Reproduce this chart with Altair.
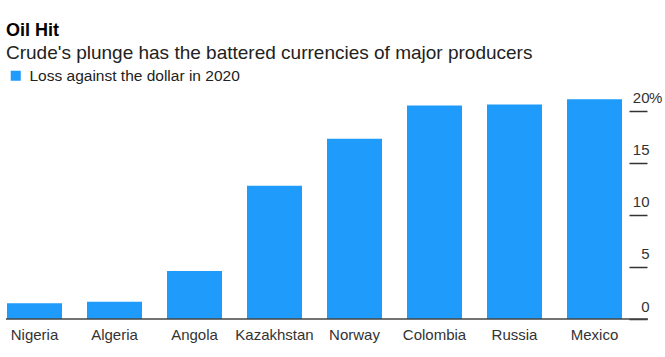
import altair as alt
import pandas as pd

countries = ["Nigeria", "Algeria", "Angola", "Kazakhstan", "Norway", "Colombia", "Russia", "Mexico"]
losses = [1.5, 1.65, 4.6, 12.8, 17.3, 20.5, 20.6, 21.1]
series_name = "Loss against the dollar in 2020"
y_ticks = [0, 5, 10, 15, 20]

FONT = "Liberation Sans"
BLUE = "#1E9BFB"

df = pd.DataFrame({"country": countries, "loss": losses, "series": series_name})
base_df = pd.DataFrame({"v": [0]})
pct_df = pd.DataFrame({"v": [20], "t": ["%"]})

yscale = alt.Scale(domain=[0, 21.5], nice=False, zero=True)
y_axis = alt.Axis(orient="right", values=y_ticks, domain=False, grid=False,
                  ticks=True, tickSize=18, tickColor="#333", tickWidth=1.5,
                  labelAlign="right", labelBaseline="alphabetic", labelOffset=-8,
                  labelPadding=2, labelFontSize=15, labelColor="#333", labelFont=FONT)

bars = alt.Chart(df).mark_bar().encode(
    x=alt.X("country:N", sort=countries, title=None,
            scale=alt.Scale(paddingInner=0.3125, paddingOuter=0.0875),
            axis=alt.Axis(domain=False, ticks=False, grid=False, labelAngle=0, labelFontSize=15,
                          labelColor="#333", labelFont=FONT, labelPadding=8)),
    y=alt.Y("loss:Q", scale=yscale, title=None, axis=y_axis),
    color=alt.Color("series:N", scale=alt.Scale(range=[BLUE]),
                    legend=alt.Legend(title=None, orient="none", legendX=8, legendY=-27,
                                      symbolType="square", symbolSize=100, symbolStrokeWidth=0,
                                      labelFontSize=15.5, labelFont=FONT, labelColor="#222",
                                      labelOffset=6, labelLimit=0, padding=0)),
)

base_rule = alt.Chart(base_df).mark_rule(color="#444", strokeWidth=1.5).encode(
    y=alt.Y("v:Q", scale=yscale, title=None, axis=y_axis),
    x=alt.value(6), x2=alt.value(648),
)

pct = alt.Chart(pct_df).mark_text(align="left", baseline="alphabetic", dy=-8, fontSize=15,
                                  font=FONT, color="#333").encode(
    y=alt.Y("v:Q", scale=yscale, title=None, axis=y_axis),
    x=alt.value(649),
    text="t:N",
)

chart = alt.layer(bars, base_rule, pct).properties(
    width=629, height=224,
    background="white",
    autosize=alt.AutoSizeParams(type="none"),
    padding={"left": 0, "top": 95, "right": 36, "bottom": 38},
    title=alt.TitleParams(
        text="Oil Hit",
        subtitle="Crude's plunge has the battered currencies of major producers",
        anchor="start", dx=6, offset=5,
        font=FONT, fontSize=18, fontWeight="bold", color="#000",
        subtitleFont=FONT, subtitleFontSize=19, subtitleColor="#222", subtitlePadding=4,
    ),
).configure_view(stroke=None, strokeWidth=0)

chart.save("out.html", embed_options={"renderer": "svg", "actions": False})
